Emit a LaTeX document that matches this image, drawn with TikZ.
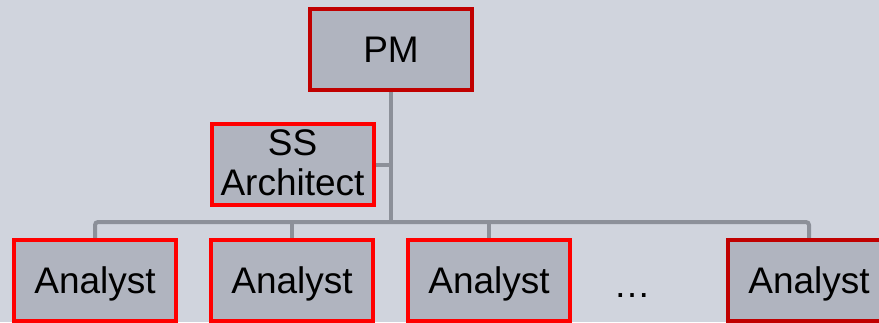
\documentclass[tikz,border=0pt]{standalone}
\usepackage{fontspec}
\setmainfont{Liberation Sans}
\usetikzlibrary{backgrounds}
\definecolor{bgcol}{HTML}{D0D4DD}
\definecolor{boxfill}{HTML}{B0B4BF}
\definecolor{darkred}{HTML}{C00000}
\definecolor{brightred}{HTML}{FF0000}
\definecolor{linkgray}{HTML}{8C9099}
\tikzset{
  role/.style={draw, fill=boxfill, line width=4pt, minimum width=162pt,
    minimum height=81pt, inner sep=0pt, align=center, text depth=0pt,
    font=\fontsize{37}{40}\selectfont, text=black},
  lead/.style={role, draw=darkred},
  staff/.style={role, draw=brightred},
  link/.style={draw=linkgray, line width=4pt}
}
\begin{document}
\begin{tikzpicture}[x=1pt,y=-1pt]
  \useasboundingbox (0,0) rectangle (879,322);
  \clip (0,0) rectangle (879,322);

  \node[lead]  (pm) at (391,49.5) {PM};
  \node[staff, text depth=3pt] (ss) at (292.5,164.5) {SS\\Architect};
  \node[staff] (a1) at (95,280.5) {Analyst};
  \node[staff] (a2) at (292,280.5) {Analyst};
  \node[staff] (a3) at (489,280.5) {Analyst};
  \node[lead]  (a4) at (809,280.5) {Analyst};
  \node[font=\fontsize{37}{40}\selectfont, text depth=0pt, inner sep=0pt]
    (dots) at (632,296) {…};
  \coordinate (bus) at (0,222);

  \begin{scope}[on background layer]
    \fill[bgcol] (0,0) rectangle (879,322);
    \draw[link] (pm.south) -- (pm.south |- bus);
    \draw[link] (ss.east) -- (ss.east -| pm.south);
    \draw[link, rounded corners=3pt] (a1.north) |- (a4.north |- bus) -- (a4.north);
    \draw[link] (a2.north) -- (a2.north |- bus);
    \draw[link] (a3.north) -- (a3.north |- bus);
  \end{scope}
\end{tikzpicture}
\end{document}
